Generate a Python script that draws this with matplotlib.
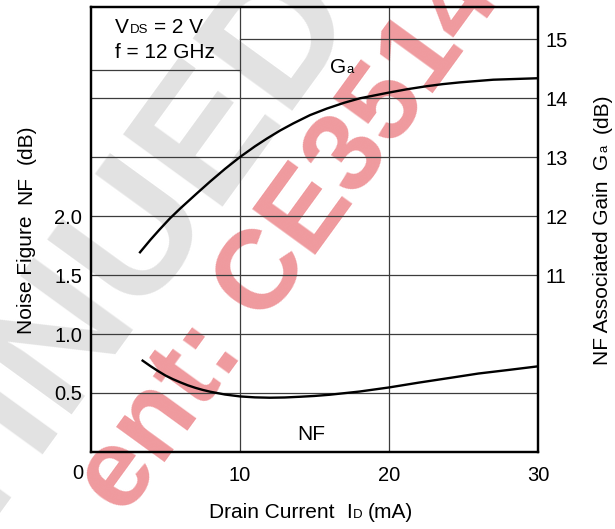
import matplotlib
matplotlib.use("Agg")
import matplotlib.pyplot as plt
from matplotlib.transforms import IdentityTransform

plt.rcParams['font.family'] = ['Liberation Sans', 'DejaVu Sans']

# ---- data ----
ga_current = [3.24, 4, 4.6, 5.3, 6, 7.09, 8, 9, 10, 11, 11.79, 12.7, 13.58, 14.7, 15.82, 17, 18.05,
              19.95, 21.2, 22.53, 23.6, 24.77, 27, 30]
ga_gain = [11.37, 11.6, 11.77, 11.96, 12.13, 12.38, 12.585, 12.80, 13.00, 13.18, 13.31, 13.45, 13.57,
           13.71, 13.82, 13.92, 13.995, 14.09, 14.148, 14.20, 14.235, 14.265, 14.31, 14.335]
nf_current = [3.4, 4, 4.5, 5, 5.5, 6, 6.5, 7, 7.5, 8, 9, 10, 11, 12, 13, 14, 15, 16, 18, 20, 22,
              24.3, 26, 28, 30]
nf_value = [0.78, 0.727, 0.686, 0.648, 0.617, 0.59, 0.565, 0.544, 0.526, 0.511, 0.487, 0.471, 0.463,
            0.46, 0.462, 0.468, 0.475, 0.485, 0.512, 0.547, 0.588, 0.632, 0.665, 0.695, 0.726]
x_ticks = [10, 20, 30]
nf_ticks = [0.5, 1.0, 1.5, 2.0]
nf_tick_labels = ['0.5', '1.0', '1.5', '2.0']
ga_ticks = [11, 12, 13, 14, 15]
nf_grid = [0.5, 1.0, 1.5, 2.0, 2.5, 3.0]

W, H = 615, 529
fig = plt.figure(figsize=(W / 100, H / 100), dpi=100)
renderer = fig.canvas.get_renderer()
IDT = IdentityTransform()

# ---- watermarks (behind the chart) ----
fig.text(-438 / W, 1 - 1101 / H, 'DISCONTINUED', fontsize=128, fontweight='bold', color='#e2e2e2',
         rotation=54, rotation_mode='anchor', ha='left', va='baseline', zorder=-2)
fig.text(124 / W, 1 - 518 / H, 'ent: CE3514', fontsize=81, fontweight='bold', color='#ef9a9e',
         rotation=54, rotation_mode='anchor', ha='left', va='baseline', zorder=-1)

ax = fig.add_axes([91 / W, 1 - 452 / H, (538 - 91) / W, (452 - 7) / H])
ax.set_facecolor('none')
ax.set_xlim(0, 30)
nf_top = (452 - 7) / 118.0
ax.set_ylim(0, nf_top)
ax2 = ax.twinx()
ax2.set_ylim(8, 8 + 2 * nf_top)

grid_c = '#3c3c3c'
for v in nf_grid:
    ax.axhline(v, color=grid_c, lw=0.9, zorder=1)
for v in [10, 20]:
    ax.axvline(v, color=grid_c, lw=0.9, zorder=1)
ax2.plot([10, 30], [15, 15], color=grid_c, lw=0.9, zorder=1)
box_y = (452 - 70) / 118.0
ax.plot([0, 10], [box_y, box_y], color=grid_c, lw=0.9, zorder=1)

ax2.plot(ga_current, ga_gain, color='black', lw=1.7, zorder=3, solid_capstyle='butt')
ax.plot(nf_current, nf_value, color='black', lw=1.7, zorder=3, solid_capstyle='butt')

for a in (ax, ax2):
    for s in a.spines.values():
        s.set_linewidth(1.6)
        s.set_color('black')

ax.set_xticks(x_ticks)
ax.set_xticklabels([str(t) for t in x_ticks])
ax.set_yticks(nf_ticks)
ax.set_yticklabels(nf_tick_labels)
ax2.set_yticks(ga_ticks)
ax2.set_yticklabels([str(t) for t in ga_ticks])
ax.tick_params(axis='x', length=0, labelsize=14.5, pad=10)
ax.tick_params(axis='y', length=0, labelsize=14.5, pad=6.5)
ax2.tick_params(axis='y', length=0, labelsize=14.5, pad=5.5)

# corner zero (shared origin label)
fig.text(78, H - 479, '0', transform=IDT, ha='center', va='baseline', fontsize=14.5)


def chain(pieces, x, y, rotation=0, align='left'):
    """pieces: (text, size, gap_px_before). x, y in top-left pixel coords, y is the baseline."""
    objs, lens = [], []
    for s, size, gap in pieces:
        t = fig.text(0, 0, s, transform=IDT, fontsize=size, rotation=rotation,
                     rotation_mode='anchor', ha='left', va='baseline')
        bb = t.get_window_extent(renderer)
        objs.append((t, gap))
        lens.append(bb.width if rotation == 0 else bb.height)
    total = sum(g for _, g in objs) + sum(lens)
    if rotation == 0:
        pos = x - (total / 2 if align == 'center' else 0)
        for (t, gap), ln in zip(objs, lens):
            pos += gap
            t.set_position((pos, H - y))
            pos += ln
    else:
        pos = (H - y) - (total / 2 if align == 'center' else 0)
        for (t, gap), ln in zip(objs, lens):
            pos += gap
            t.set_position((x, pos))
            pos += ln


SP = 5.8
# axis labels
chain([('Drain Current', 15, 0), ('I', 15, 2 * SP), ('D', 9.5, 0.6), ('(mA)', 15, SP)],
      311, 518, align='center')
chain([('Noise Figure', 15, 0), ('NF', 15, 2 * SP), ('(dB)', 15, 2 * SP)],
      31.5, 229.5, rotation=90, align='center')
chain([('NF Associated Gain', 15, 0), ('G', 15, 2 * SP), ('a', 9.5, 0.6), ('(dB)', 15, 2 * SP)],
      607.5, 229.5, rotation=90, align='center')

# conditions text
chain([('V', 15, 0), ('DS', 9.5, 0.6), ('= 2 V', 15, SP)], 115, 33)
chain([('f = 12 GHz', 15, 0)], 115, 58)

# curve labels
chain([('G', 15, 0), ('a', 9.5, 0.6)], 330, 73)
chain([('NF', 15, 0)], 297, 440)

fig.savefig('out.png', dpi=100)
